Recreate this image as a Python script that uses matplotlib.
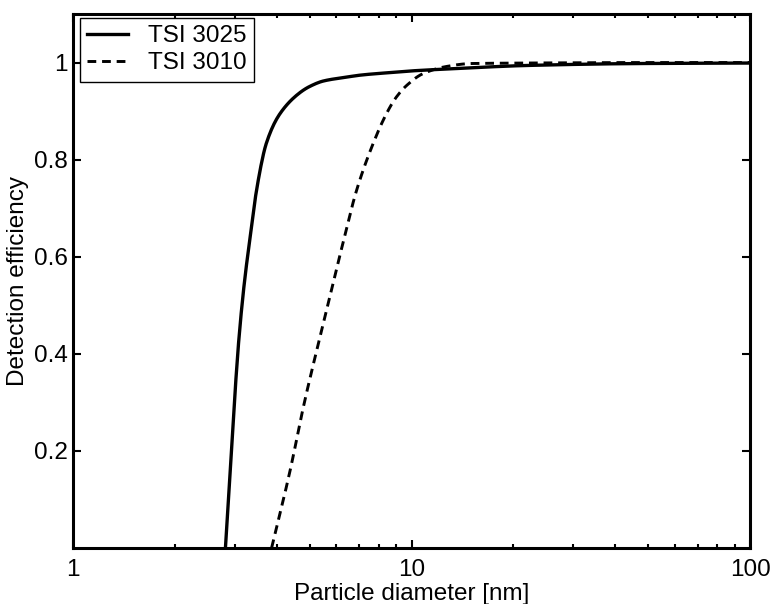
import numpy as np
import matplotlib
matplotlib.use('Agg')
import matplotlib.pyplot as plt
from matplotlib.ticker import LogLocator, NullFormatter, FixedLocator

plt.rcParams['font.family'] = ['Liberation Sans', 'DejaVu Sans']

# values
d_3025 = [2.82, 2.91, 3.0, 3.09, 3.2, 3.35, 3.49, 3.73, 4.09, 4.68, 5.01, 5.49,
          6.43, 7.04, 8.5, 10.1, 13.9, 21.9, 47.3, 100]
eff_3025 = [0.0, 0.154, 0.305, 0.43, 0.54, 0.65, 0.74, 0.835, 0.895, 0.938, 0.951, 0.962,
            0.97, 0.974, 0.979, 0.983, 0.988, 0.994, 0.998, 0.999]

d_3010 = [3.86, 4.38, 4.79, 5.25, 5.68, 6.22, 6.89, 7.71, 8.45, 9.0, 9.68, 10.8, 12.7,
          15.0, 21.9, 47.3, 100]
eff_3010 = [0.0, 0.16, 0.29, 0.408, 0.505, 0.618, 0.738, 0.834, 0.896, 0.928, 0.953, 0.977, 0.992,
            0.998, 0.999, 1.0, 1.0]

yticks = [0.2, 0.4, 0.6, 0.8, 1.0]
ytick_labels = ['0.2', '0.4', '0.6', '0.8', '1']
xticks = [1, 10, 100]
xtick_labels = ['1', '10', '100']

FS = 17.5

fig = plt.figure(figsize=(7.71, 6.04), dpi=100)
ax = fig.add_axes([0.0947, 0.0927, 0.8781, 0.8841])

# monotone cubic (pchip) through the read points, in log-x
def smooth(d, e, n=400):
    ld = np.log10(np.asarray(d, float)); e = np.asarray(e, float)
    xs = np.linspace(ld[0], ld[-1], n)
    h = np.diff(ld); delta = np.diff(e) / h
    m = np.zeros_like(e)
    m[0] = delta[0]; m[-1] = delta[-1]
    for k in range(1, len(e) - 1):
        if delta[k - 1] * delta[k] <= 0:
            m[k] = 0
        else:
            w1 = 2 * h[k] + h[k - 1]; w2 = h[k] + 2 * h[k - 1]
            m[k] = (w1 + w2) / (w1 / delta[k - 1] + w2 / delta[k])
    idx = np.clip(np.searchsorted(ld, xs) - 1, 0, len(h) - 1)
    t = (xs - ld[idx]) / h[idx]
    h00 = 2*t**3 - 3*t**2 + 1; h10 = t**3 - 2*t**2 + t
    h01 = -2*t**3 + 3*t**2; h11 = t**3 - t**2
    ys = h00*e[idx] + h10*h[idx]*m[idx] + h01*e[idx+1] + h11*h[idx]*m[idx+1]
    return 10**xs, ys

x1, y1 = smooth(d_3025, eff_3025)
x2, y2 = smooth(d_3010, eff_3010)
ax.plot(x1, y1, 'k-', lw=2.4, label='TSI 3025')
ax.plot(x2, y2, 'k--', lw=2.1, dashes=(3.0, 2.0), label='TSI 3010')

ax.set_xscale('log')
ax.set_xlim(1, 100)
ax.set_ylim(0, 1.1)
ax.xaxis.set_major_locator(FixedLocator(xticks))
ax.set_xticklabels(xtick_labels)
ax.xaxis.set_minor_locator(LogLocator(base=10, subs=np.arange(2, 10)))
ax.xaxis.set_minor_formatter(NullFormatter())
ax.set_yticks(yticks)
ax.set_yticklabels(ytick_labels)

ax.tick_params(which='both', direction='in', top=True, right=True, labelsize=FS, width=1.5)
ax.tick_params(which='major', length=6)
ax.tick_params(which='minor', length=3)
ax.tick_params(axis='x', pad=8)
ax.tick_params(axis='y', pad=4)
for s in ax.spines.values():
    s.set_linewidth(2.2)

ax.set_xlabel('Particle diameter [nm]', fontsize=FS, labelpad=1)
ax.set_ylabel('Detection efficiency', fontsize=FS, labelpad=3)

leg = ax.legend(loc='upper left', bbox_to_anchor=(0.010, 0.993), borderaxespad=0,
                fontsize=FS, handlelength=1.7, fancybox=False,
                framealpha=1, borderpad=0.3, labelspacing=0.22, handletextpad=0.8)
leg.get_frame().set_edgecolor('black')
leg.get_frame().set_linewidth(1.0)

fig.savefig('out.png', dpi=100)
